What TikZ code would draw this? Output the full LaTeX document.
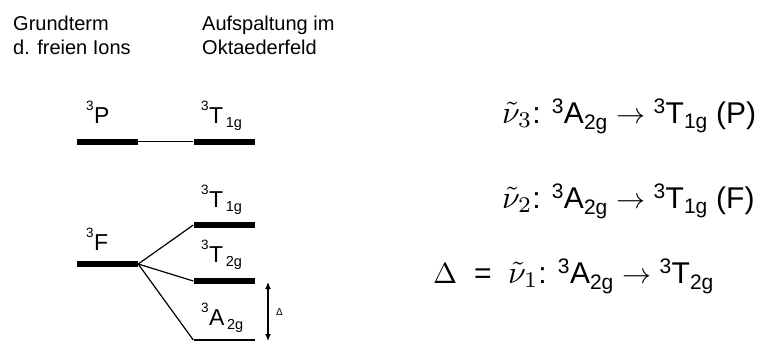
\documentclass[tikz,border=0pt]{standalone}
\usepackage{graphicx}
\usepackage{fontspec}
\setmainfont{Liberation Sans}
\usetikzlibrary{arrows.meta}
\newcommand\lbl[3]{\raisebox{12.5pt}{\fontsize{13.5}{13.5}\selectfont #1}\hspace{0.5pt}#2\hspace{2.5pt}\raisebox{-4pt}{\fontsize{14.5}{14.5}\selectfont #3}}
\newcommand\eqt[3]{\textsuperscript{#1}#2\textsubscript{#3}}
\newcommand\mth[1]{\scalebox{3.2}{\fontsize{10}{12}\selectfont$#1$}}
\newcommand\mthb[1]{\scalebox{2.9}{\fontsize{10}{12}\selectfont$#1$}}
\begin{document}
\begin{tikzpicture}[x=1pt,y=-1pt,
  head/.style={anchor=base west, inner sep=0, font=\fontsize{20}{24}\selectfont},
  lab/.style={anchor=base west, inner sep=0, font=\fontsize{23}{26}\selectfont},
  eq/.style={anchor=base west, inner sep=0, font=\fontsize{30}{34}\selectfont},
  bar/.style={fill=black, inner sep=0, minimum width=61pt, minimum height=6pt},
  thinbar/.style={fill=black, inner sep=0, minimum width=61pt, minimum height=1.3pt},
  conn/.style={line width=1.2pt},
  thin conn/.style={line width=1pt},
  dbl/.style={line width=1.2pt, {Latex[length=7pt,width=6pt]}-{Latex[length=7pt,width=6pt]}}]
\useasboundingbox (0,0) rectangle (768,341);
% headers
\node[head] (h1) at (13,30) {Grundterm};
\node[head] (h2) at (13,54) {d. freien Ions};
\node[head] (h3) at (202,30) {Aufspaltung im};
\node[head] (h4) at (202,54) {Oktaederfeld};
% levels
\node[bar] (P) at (107.5,141.5) {};
\node[bar] (TP) at (224,141.5) {};
\node[bar] (F) at (107.5,264) {};
\node[bar] (T1) at (224,225) {};
\node[bar] (T2) at (224,281) {};
\node[thinbar] (A2) at (224,340) {};
% labels
\node[lab] (lP) at (86,123) {\lbl{3}{P}{}};
\node[lab] (lTP) at (201,123) {\lbl{3}{T}{1g}};
\node[lab] (lF) at (86,250) {\lbl{3}{F}{}};
\node[lab] (lT1) at (201,207) {\lbl{3}{T}{1g}};
\node[lab] (lT2) at (201,262) {\lbl{3}{T}{2g}};
\node[lab] (lA2) at (201,325) {\lbl{3}{A}{2g}};
% connectors
\draw[thin conn] (P.east) -- (TP.west);
\draw[conn] (F.east) -- (T1.west);
\draw[conn] (F.east) -- (T2.west);
\draw[conn] (F.east) -- (A2.west);
% delta arrow
\coordinate (d1) at (268,282);
\coordinate (d2) at (268,341);
\draw[dbl] (d1) -- (d2);
\node[anchor=west, inner sep=0, font=\fontsize{10}{10}\selectfont] (dl) at (276,312) {Δ};
% equations
\node[eq] (e3) at (502,123) {\mth{\tilde{\nu}_3}: \eqt{3}{A}{2g} \mthb{\rightarrow} \eqt{3}{T}{1g} (P)};
\node[eq] (e2) at (502,208) {\mth{\tilde{\nu}_2}: \eqt{3}{A}{2g} \mthb{\rightarrow} \eqt{3}{T}{1g} (F)};
\node[eq] (e1) at (433,283) {\mthb{\Delta}\ \ =\ \ \mth{\tilde{\nu}_1}: \eqt{3}{A}{2g} \mthb{\rightarrow} \eqt{3}{T}{2g}};
\end{tikzpicture}
\end{document}
